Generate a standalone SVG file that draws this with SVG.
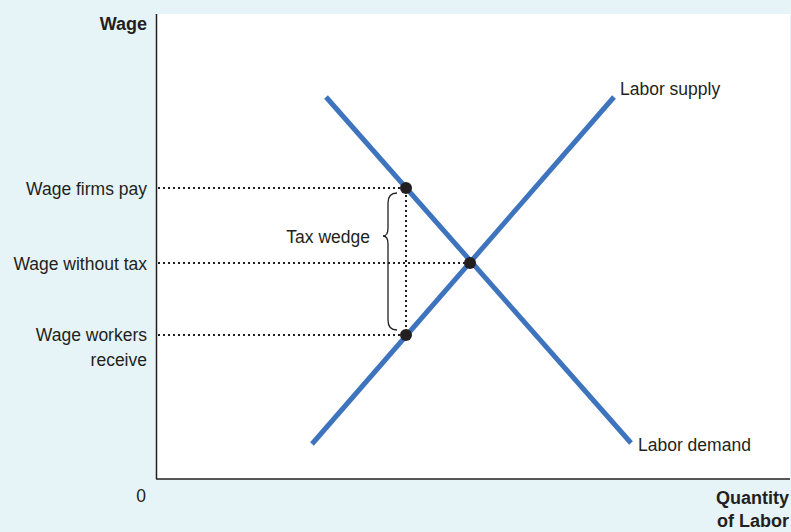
<svg xmlns="http://www.w3.org/2000/svg" width="791" height="532" viewBox="0 0 791 532">
<style>
.t{font-family:"Liberation Sans",Arial,sans-serif;font-size:17.5px;fill:#231f20}
.b{font-family:"Liberation Sans",Arial,sans-serif;font-size:18px;font-weight:bold;fill:#231f20}
.curve{stroke:#3e74bd;stroke-width:5;fill:none}
.dot{stroke:#231f20;stroke-width:2;stroke-dasharray:2 3;fill:none}
.pt{fill:#231f20}
</style>
<rect x="0" y="0" width="791" height="532" fill="#e6f4f8"/>
<rect x="156" y="14" width="634" height="465" fill="#ffffff"/>
<g id="axes">
<line x1="156.5" y1="14" x2="156.5" y2="479" stroke="#231f20" stroke-width="1.5"/>
<line x1="156" y1="479" x2="790" y2="479" stroke="#231f20" stroke-width="1.5"/>
</g>
<g id="connectors">
<line class="dot" x1="158" y1="188" x2="406" y2="188"/>
<line class="dot" x1="158" y1="263" x2="470" y2="263"/>
<line class="dot" x1="158" y1="335" x2="406" y2="335"/>
<line class="dot" x1="406" y1="190" x2="406" y2="333"/>
<path d="M397 193 Q388 193 388 203 L388 228 Q388 236 383 236 Q388 236 388 244 L388 320 Q388 330 397 330" stroke="#231f20" stroke-width="1.3" fill="none"/>
</g>
<g id="labor-supply">
<line class="curve" x1="312" y1="444" x2="614" y2="97"/>
<text class="t" x="620" y="95">Labor supply</text>
</g>
<g id="labor-demand">
<line class="curve" x1="326" y1="97" x2="631" y2="443"/>
<text class="t" x="638" y="451">Labor demand</text>
</g>
<g id="points">
<circle class="pt" cx="406" cy="188" r="6"/>
<circle class="pt" cx="470" cy="263" r="6"/>
<circle class="pt" cx="406" cy="335" r="6"/>
</g>
<g id="labels">
<text class="b" x="147" y="30" text-anchor="end">Wage</text>
<text class="t" x="147" y="195" text-anchor="end">Wage firms pay</text>
<text class="t" x="147" y="270" text-anchor="end">Wage without tax</text>
<text class="t" x="147" y="341" text-anchor="end">Wage workers</text>
<text class="t" x="147" y="366" text-anchor="end">receive</text>
<text class="t" x="370" y="243" text-anchor="end">Tax wedge</text>
<text class="t" x="141" y="502" text-anchor="middle">0</text>
<text class="b" x="789" y="504" text-anchor="end">Quantity</text>
<text class="b" x="789" y="527" text-anchor="end">of Labor</text>
</g>
</svg>
